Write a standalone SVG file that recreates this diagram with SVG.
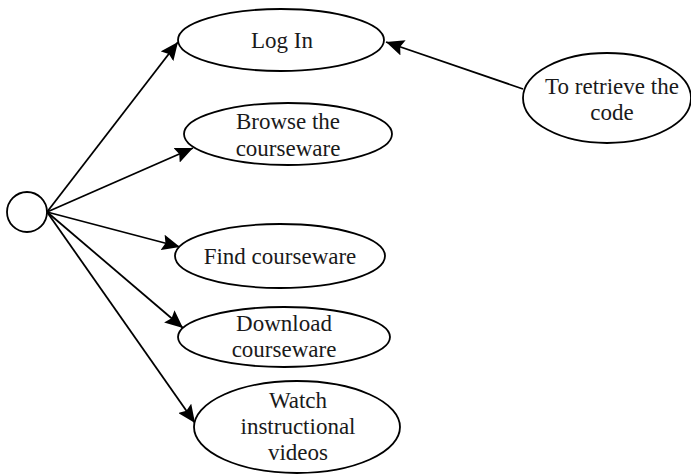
<svg xmlns="http://www.w3.org/2000/svg" width="691" height="474" viewBox="0 0 691 474">
<style>
.n{fill:#fff;stroke:#000;stroke-width:1.8}
.t{font-family:"Liberation Serif","Times New Roman",serif;font-size:23px;fill:#1a1a1a;text-anchor:middle}
.c{stroke:#000;stroke-width:1.8;fill:none;marker-end:url(#ah)}
</style>
<defs>
<marker id="ah" markerUnits="userSpaceOnUse" markerWidth="20" markerHeight="16" refX="18" refY="8" orient="auto">
<path d="M0,0 L18,8 L0,16 L3,8 Z" fill="#000"/>
</marker>
</defs>
<g id="connectors">
<line class="c" x1="47" y1="212" x2="178" y2="42"/>
<line class="c" x1="47" y1="212" x2="193" y2="148"/>
<line class="c" x1="47" y1="212" x2="180" y2="247"/>
<line class="c" x1="47" y1="212" x2="183" y2="328"/>
<line class="c" x1="47" y1="212" x2="195" y2="423"/>
<line class="c" x1="523" y1="89" x2="386" y2="42"/>
</g>
<g id="actor"><circle class="n" cx="27" cy="212" r="20"/></g>
<g id="login"><ellipse class="n" cx="281" cy="40" rx="103" ry="31"/><text class="t" x="282" y="48">Log In</text></g>
<g id="browse"><ellipse class="n" cx="288" cy="134" rx="104" ry="31"/><text class="t" x="288" y="129">Browse the</text><text class="t" x="288" y="156">courseware</text></g>
<g id="find"><ellipse class="n" cx="280" cy="256" rx="105" ry="32"/><text class="t" x="280" y="264">Find courseware</text></g>
<g id="download"><ellipse class="n" cx="284" cy="337" rx="106" ry="30"/><text class="t" x="284" y="331">Download</text><text class="t" x="284" y="357">courseware</text></g>
<g id="watch"><ellipse class="n" cx="297" cy="427" rx="103" ry="46"/><text class="t" x="298" y="408">Watch</text><text class="t" x="298" y="434">instructional</text><text class="t" x="298" y="460">videos</text></g>
<g id="retrieve"><ellipse class="n" cx="607" cy="98" rx="84" ry="45"/><text class="t" x="612" y="94">To retrieve the</text><text class="t" x="612" y="120">code</text></g>
</svg>
